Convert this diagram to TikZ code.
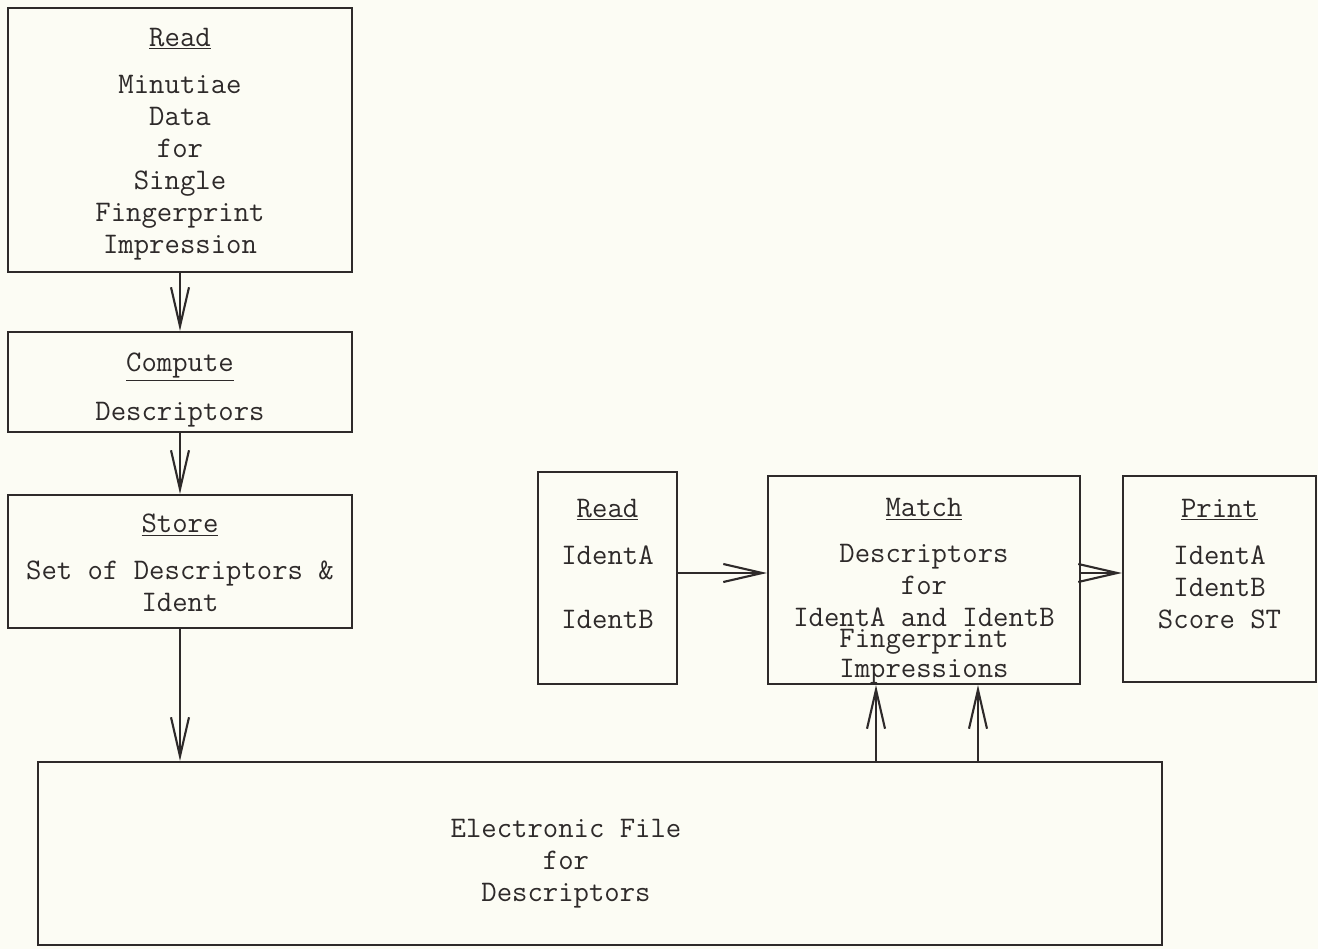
\documentclass[tikz,border=0pt]{standalone}
\usepackage{xcolor}
\usetikzlibrary{positioning,arrows.meta}

\definecolor{paper}{HTML}{FCFCF4}
\definecolor{ink}{HTML}{2E2A2A}

% underlined heading, with an optional strut to push it down
\newcommand{\boxhead}[2][0pt]{\rule{0pt}{#1}\underline{#2}}

\begin{document}
\begin{tikzpicture}[
    x=0.02cm, y=-0.02cm,
    box/.style={
        draw=ink,
        line width=1.2pt,
        rectangle,
        inner sep=0pt,
        align=center,
        text=ink,
        font=\ttfamily\fontsize{17}{18.2}\selectfont
    },
    lbl/.style={
        align=center,
        text=ink,
        font=\ttfamily\fontsize{17}{18.2}\selectfont
    },
    arrow/.style={-{Straight Barb[length=0.78cm, width=0.36cm, line width=1.2pt]}, draw=ink, line width=1.2pt}
]
\fill[paper] (0,0) rectangle (1318,949);
\useasboundingbox (0,0) rectangle (1318,949);

% left column
\node[box, minimum width=6.88cm, minimum height=5.28cm] (read) at (180,140) {
\boxhead[15pt]{Read}\\[9pt]
Minutiae\\
Data\\
for\\
Single\\
Fingerprint\\
Impression
};

\node[box, minimum width=6.88cm, minimum height=2.0cm] (compute) at (180,382) {
\boxhead[19.5pt]{Compute}\\[9.5pt]
Descriptors
};

\node[box, minimum width=6.88cm, minimum height=2.66cm] (store) at (180,561.5) {
\boxhead[12pt]{Store}\\[9pt]
Set of Descriptors \&\\
Ident
};

% file
\node[box, minimum width=22.48cm, minimum height=3.66cm] (file) at (600,853.5) {};
\node[lbl] (filetext) at (566,864) {
Electronic File\\
for\\
Descriptors
};

% right row
\node[box, minimum width=2.78cm, minimum height=4.24cm] (readid) at (607.5,578) {
\boxhead{Read}\\[9pt]
IdentA\\[18.2pt]
IdentB\\[-2pt]
};

\node[box, minimum width=6.24cm, minimum height=4.16cm] (match) at (924,580) {
\boxhead[23pt]{Match}\\[8pt]
Descriptors\\
for\\
IdentA and IdentB\\[-6.5pt]
Fingerprint\\[-1pt]
Impressions
};

\node[box, minimum width=3.86cm, minimum height=4.12cm] (print) at (1219.5,579) {
\boxhead{Print}\\[9pt]
IdentA\\
IdentB\\
Score ST\\[-1pt]
};

\coordinate (m1) at ([xshift=-0.96cm]match.south);
\coordinate (m2) at ([xshift=1.08cm]match.south);

\draw[arrow] (read) -- (compute);
\draw[arrow] (compute) -- (store);
\draw[arrow] (store.south) -- (store.south |- file.north);
\draw[arrow] ([yshift=0.1cm]readid.east) -- ([yshift=0.1cm]readid.east -| match.west);
\draw[arrow] ([yshift=0.14cm]match.east) -- ([yshift=0.14cm]match.east -| print.west);
\draw[arrow] (m1 |- file.north) -- (m1);
\draw[arrow] (m2 |- file.north) -- (m2);

\end{tikzpicture}
\end{document}
